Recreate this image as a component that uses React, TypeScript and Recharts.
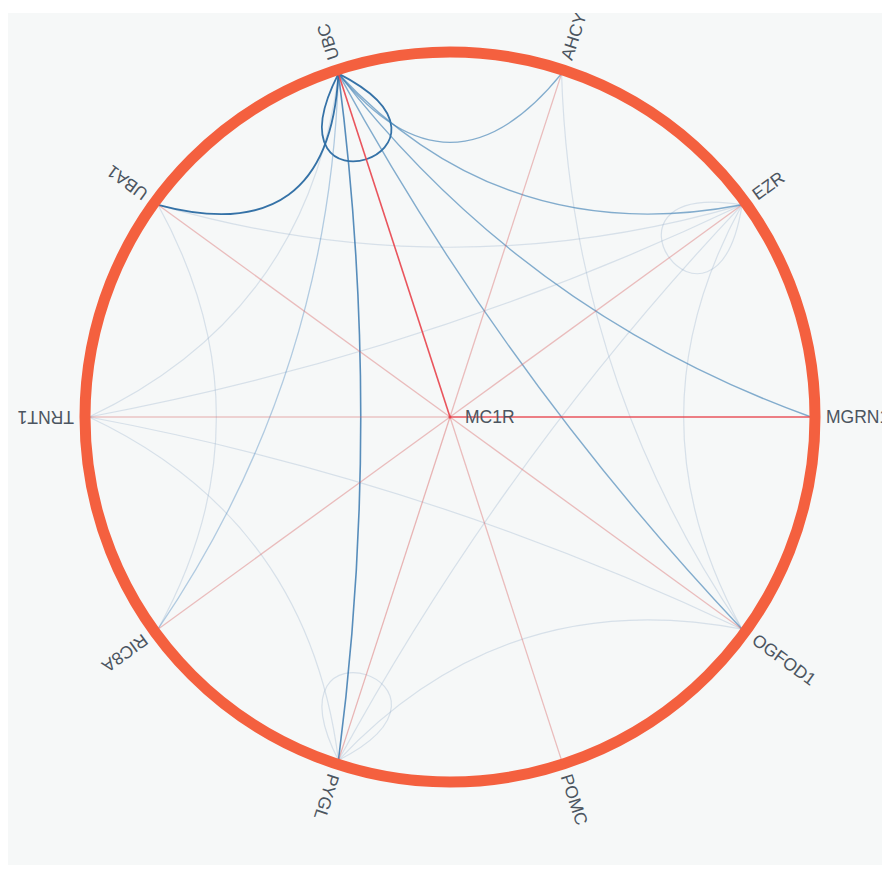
import { PolarAngleAxis, PolarRadiusAxis, Radar, RadarChart } from "recharts";

// nodes placed counter-clockwise round the ring, starting at 3 o'clock
const ringNodes = [
  "MGRN1",
  "EZR",
  "AHCY",
  "UBC",
  "UBA1",
  "TRNT1",
  "RIC8A",
  "PYGL",
  "POMC",
  "OGFOD1",
];
const hubNode = "MC1R";

// MC1R -> partner, weight
const hubLinks: [string, number][] = [
  ["MGRN1", 4],
  ["EZR", 2],
  ["AHCY", 2],
  ["UBC", 4],
  ["UBA1", 2],
  ["TRNT1", 1.5],
  ["RIC8A", 2],
  ["PYGL", 2.5],
  ["POMC", 2],
  ["OGFOD1", 2],
];

// partner <-> partner, weight
const ringLinks: [string, string, number][] = [
  ["UBC", "UBA1", 4],
  ["UBC", "PYGL", 3.5],
  ["UBC", "AHCY", 3],
  ["UBC", "EZR", 3],
  ["UBC", "MGRN1", 3],
  ["UBC", "OGFOD1", 3],
  ["UBC", "RIC8A", 2],
  ["UBC", "TRNT1", 1],
  ["UBA1", "EZR", 1],
  ["UBA1", "RIC8A", 1],
  ["EZR", "TRNT1", 1],
  ["EZR", "PYGL", 1],
  ["EZR", "OGFOD1", 1],
  ["AHCY", "OGFOD1", 1],
  ["TRNT1", "OGFOD1", 1],
  ["TRNT1", "PYGL", 1],
  ["PYGL", "OGFOD1", 1],
];

const selfLoops: [string, number][] = [
  ["UBC", 4],
  ["EZR", 1],
  ["PYGL", 1],
];

const nodeData = ringNodes.map((name) => ({ name, r: 1 }));

const FONT = "'Liberation Sans', Arial, sans-serif";
const LABEL = "#4c5560";

const blueStyle = (w: number) => {
  if (w >= 4) return { stroke: "#2a6aa2", opacity: 0.95, width: 1.8 };
  if (w >= 3.5) return { stroke: "#2f72ab", opacity: 0.8, width: 1.6 };
  if (w >= 3) return { stroke: "#3679b1", opacity: 0.6, width: 1.4 };
  if (w >= 2) return { stroke: "#4a87bd", opacity: 0.4, width: 1.3 };
  return { stroke: "#8eaac6", opacity: 0.3, width: 1.2 };
};

const redStyle = (w: number) => {
  if (w >= 4) return { stroke: "#e8424b", opacity: 0.9, width: 1.6 };
  return { stroke: "#d96a6a", opacity: 0.18 + w * 0.12, width: 1.3 };
};

const NetworkShape = (props: any) => {
  const points = props.points ?? [];
  if (!points.length) return null;
  const cx = points[0].cx;
  const cy = points[0].cy;
  const radius = points[0].radius;
  const pos: Record<string, { x: number; y: number }> = {};
  points.forEach((p: any) => {
    pos[p.payload.name] = { x: p.x, y: p.y };
  });
  pos[hubNode] = { x: cx, y: cy };

  const curves = [...ringLinks]
    .sort((a, b) => a[2] - b[2])
    .map(([s, t, w], i) => {
      const p1 = pos[s];
      const p2 = pos[t];
      const mx = (p1.x + p2.x) / 2;
      const my = (p1.y + p2.y) / 2;
      const qx = mx + (cx - mx) * 0.4;
      const qy = my + (cy - my) * 0.4;
      const st = blueStyle(w);
      return (
        <path
          key={`l${i}`}
          d={`M${p1.x},${p1.y} Q${qx},${qy} ${p2.x},${p2.y}`}
          fill="none"
          stroke={st.stroke}
          strokeOpacity={st.opacity}
          strokeWidth={st.width}
        />
      );
    });

  const loops = selfLoops.map(([n, w], i) => {
    const p = pos[n];
    const a = Math.atan2(cy - p.y, cx - p.x);
    const len = radius * 0.47;
    const a1 = a - Math.PI / 4;
    const a2 = a + Math.PI / 4;
    const st = blueStyle(w);
    return (
      <path
        key={`s${i}`}
        d={`M${p.x},${p.y} C${p.x + len * Math.cos(a1)},${p.y + len * Math.sin(a1)} ${
          p.x + len * Math.cos(a2)
        },${p.y + len * Math.sin(a2)} ${p.x},${p.y}`}
        fill="none"
        stroke={st.stroke}
        strokeOpacity={st.opacity}
        strokeWidth={st.width}
      />
    );
  });

  const spokes = hubLinks.map(([t, w], i) => {
    const p = pos[t];
    const st = redStyle(w);
    return (
      <line
        key={`h${i}`}
        x1={cx}
        y1={cy}
        x2={p.x}
        y2={p.y}
        stroke={st.stroke}
        strokeOpacity={st.opacity}
        strokeWidth={st.width}
      />
    );
  });

  // radial labels, read outward from each node (no flipping on the left side)
  const labels = points.map((p: any, i: number) => {
    const ang = Math.atan2(cy - p.y, p.x - cx);
    const lx = cx + Math.cos(ang) * (radius + 15);
    const ly = cy - Math.sin(ang) * (radius + 15);
    const deg = (-ang * 180) / Math.PI;
    return (
      <text
        key={`t${i}`}
        x={lx}
        y={ly}
        transform={`rotate(${deg}, ${lx}, ${ly})`}
        dominantBaseline="central"
        textAnchor="start"
        fill={LABEL}
        fontSize={17.5}
        fontFamily={FONT}
      >
        {p.payload.name}
      </text>
    );
  });

  return (
    <g>
      {loops}
      {curves}
      {spokes}
      <circle cx={cx} cy={cy} r={1.5} fill="#e8424b" />
      <circle
        cx={cx}
        cy={cy}
        r={radius + 4}
        fill="none"
        stroke="#f4603f"
        strokeWidth={11}
      />
      <text
        x={cx + 15}
        y={cy}
        dominantBaseline="central"
        fill={LABEL}
        fontSize={17.5}
        fontFamily={FONT}
      >
        {hubNode}
      </text>
      {labels}
    </g>
  );
};

export default function App() {
  return (
    <div style={{ width: 882, height: 852, marginTop: 5, background: "#f6f8f8" }}>
      <RadarChart
        width={882}
        height={852}
        data={nodeData}
        cx={442}
        cy={404}
        outerRadius={361}
        startAngle={-36}
        endAngle={324}
        margin={{ top: 0, right: 0, bottom: 0, left: 0 }}
      >
        <PolarRadiusAxis domain={[0, 1]} tick={false} axisLine={false} />
        <PolarAngleAxis dataKey="name" tick={false} tickLine={false} axisLine={false} />
        <Radar
          dataKey="r"
          shape={NetworkShape}
          dot={false}
          isAnimationActive={false}
        />
      </RadarChart>
    </div>
  );
}
